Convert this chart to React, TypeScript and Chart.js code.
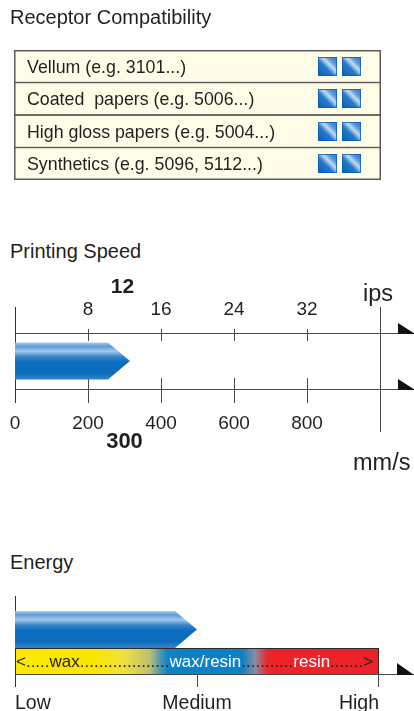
import React, { useEffect, useRef } from 'react';
import { Chart, registerables } from 'chart.js';

Chart.register(...registerables);

const FONT = '"Liberation Sans", Arial, Helvetica, sans-serif';
const INK = '#231f20';
const LINE = '#4a4a4a';

// ---------- Receptor compatibility ----------
const receptorLabels = [
  'Vellum (e.g. 3101...)',
  'Coated  papers (e.g. 5006...)',
  'High gloss papers (e.g. 5004...)',
  'Synthetics (e.g. 5096, 5112...)',
];
const receptorRowSpan = [1, 1, 1, 1];
const receptorScore = [2, 2, 2, 2];

// ---------- Printing speed ----------
const speedMmTicks = [0, 200, 400, 600, 800];
const speedIpsTicks = [8, 16, 24, 32];
const speedMmMax = 1000;
const speedIpsMax = 40;
const speedBar = [315];
const speedMarkMm = 300;
const speedMarkIps = 12;

// ---------- Energy ----------
const energyLevels = ['Low', 'Medium', 'High'];
const energyBar = [1];
const ribbonParts = ['<.....', 'wax', '...................', 'wax/resin', '...........', 'resin', '.......>'];
const ribbonInk = [INK, INK, INK, '#ffffff', INK, '#ffffff', INK];

// ---------- styles ----------
const BAR_STOPS: [number, string][] = [
  [0, '#b0cfec'],
  [0.1, '#5f9bd7'],
  [0.24, '#a2c7ea'],
  [0.38, '#3a85cb'],
  [0.52, '#0e6ebe'],
  [0.82, '#0c6bbc'],
  [1, '#3585ca'],
];
const BAND_STOPS: [number, string][] = [
  [0, '#fde800'],
  [0.44, '#fbe500'],
  [0.6, '#f0e040'],
  [0.74, '#bcc070'],
  [0.8, '#4a96b4'],
  [0.84, '#0d82c8'],
  [1.25, '#0f80c4'],
  [1.32, '#8a8ca2'],
  [1.38, '#e2302f'],
  [1.42, '#ee2229'],
  [2, '#ee2229'],
];

function noPad(s: any) {
  s.paddingLeft = 0;
  s.paddingRight = 0;
  s.paddingTop = 0;
  s.paddingBottom = 0;
}

function drawArrowBar(ctx: CanvasRenderingContext2D, start: number, end: number, cy: number, h: number, tip: number) {
  const top = cy - h / 2;
  const bot = cy + h / 2;
  const g = ctx.createLinearGradient(0, top, 0, bot);
  BAR_STOPS.forEach(([o, c]) => g.addColorStop(o, c));
  ctx.beginPath();
  ctx.moveTo(start, top);
  ctx.lineTo(end - tip, top);
  ctx.lineTo(end, cy);
  ctx.lineTo(end - tip, bot);
  ctx.lineTo(start, bot);
  ctx.closePath();
  ctx.fillStyle = g;
  ctx.fill();
}

function drawChip(ctx: CanvasRenderingContext2D, x: number, y: number, s: number) {
  const g = ctx.createLinearGradient(x, y + s, x + s, y);
  g.addColorStop(0, '#0a5eb0');
  g.addColorStop(0.42, '#267bcb');
  g.addColorStop(0.6, '#c2dbf2');
  g.addColorStop(0.75, '#5c9ad8');
  g.addColorStop(1, '#1f75c5');
  ctx.fillStyle = g;
  ctx.fillRect(x, y, s, s);
  ctx.strokeStyle = 'rgba(10,95,175,0.8)';
  ctx.lineWidth = 1;
  ctx.strokeRect(x + 0.5, y + 0.5, s - 1, s - 1);
}

function vline(ctx: CanvasRenderingContext2D, x: number, y0: number, y1: number) {
  const px = Math.round(x) + 0.5;
  ctx.beginPath();
  ctx.moveTo(px, y0);
  ctx.lineTo(px, y1);
  ctx.stroke();
}
function hline(ctx: CanvasRenderingContext2D, y: number, x0: number, x1: number) {
  const py = Math.round(y) + 0.5;
  ctx.beginPath();
  ctx.moveTo(x0, py);
  ctx.lineTo(x1, py);
  ctx.stroke();
}
function arrowHead(ctx: CanvasRenderingContext2D, x: number, y: number, w: number, h: number) {
  ctx.beginPath();
  ctx.moveTo(x, y - h);
  ctx.lineTo(x, y + 1);
  ctx.lineTo(x + w, y + 1);
  ctx.closePath();
  ctx.fillStyle = '#111';
  ctx.fill();
}

const tableDecor = {
  id: 'tableDecor',
  afterDatasetsDraw(chart: any) {
    const { ctx, chartArea: ca, scales } = chart;
    ctx.save();
    ctx.strokeStyle = '#5a5a5a';
    ctx.lineWidth = 1.5;
    ctx.strokeRect(ca.left + 0.75, ca.top + 0.75, ca.right - ca.left - 1.5, ca.bottom - ca.top - 1.5);
    const s = 19;
    receptorScore.forEach((n, i) => {
      const cy = scales.y.getPixelForValue(i);
      for (let k = 0; k < n; k++) {
        const x = ca.right - 20 - s - (n - 1 - k) * 24;
        drawChip(ctx, x, Math.round(cy - s / 2), s);
      }
    });
    ctx.restore();
  },
};

const speedDecor = {
  id: 'speedDecor',
  beforeDatasetsDraw(chart: any) {
    const { ctx, chartArea: ca, scales, width } = chart;
    const xm = scales.x;
    const xi = scales.x2;
    ctx.save();
    ctx.strokeStyle = LINE;
    ctx.lineWidth = 1;
    hline(ctx, ca.top, ca.left, width);
    hline(ctx, ca.bottom, ca.left, width);
    ctx.strokeStyle = '#333';
    vline(ctx, ca.left, ca.top - 26, ca.bottom + 14);
    ctx.strokeStyle = LINE;
    vline(ctx, xm.getPixelForValue(speedMmMax), ca.top - 26, ca.bottom + 43);
    speedIpsTicks.forEach((v) => vline(ctx, xi.getPixelForValue(v), ca.top - 4, ca.top + 8));
    speedMmTicks.filter((v) => v > 0).forEach((v) => vline(ctx, xm.getPixelForValue(v), ca.bottom - 11, ca.bottom + 14));
    const ax = xm.getPixelForValue(speedMmMax) + 18;
    arrowHead(ctx, ax, Math.round(ca.top), 17, 10);
    arrowHead(ctx, ax, Math.round(ca.bottom), 17, 10);

    ctx.fillStyle = INK;
    ctx.textBaseline = 'alphabetic';
    ctx.textAlign = 'center';
    ctx.font = `bold 21px ${FONT}`;
    ctx.fillText(String(speedMarkIps), xi.getPixelForValue(speedMarkIps) - 2, ca.top - 40);
    ctx.font = `bold 22px ${FONT}`;
    ctx.fillText(String(speedMarkMm), xm.getPixelForValue(speedMarkMm), ca.bottom + 59);
    ctx.textAlign = 'left';
    ctx.font = `23.5px ${FONT}`;
    ctx.fillText('ips', ca.right - 17, ca.top - 32);
    ctx.fillText('mm/s', ca.right - 27, ca.bottom + 81);
    ctx.restore();
  },
  afterDatasetsDraw(chart: any) {
    const { ctx } = chart;
    const el = chart.getDatasetMeta(0).data[0];
    const p = el.getProps(['x', 'y', 'base', 'height'], true);
    ctx.save();
    drawArrowBar(ctx, p.base, p.x, p.y, p.height, 22);
    ctx.restore();
  },
};

const energyDecor = {
  id: 'energyDecor',
  beforeDatasetsDraw(chart: any) {
    const { ctx, chartArea: ca, scales, width } = chart;
    const x = scales.x;
    const bl = x.getPixelForValue(0);
    const br = x.getPixelForValue(2);
    const bt = ca.bottom;
    const bb = ca.bottom + 26;
    ctx.save();
    const g = ctx.createLinearGradient(bl, 0, br, 0);
    BAND_STOPS.forEach(([v, c]) => g.addColorStop(v / 2, c));
    ctx.fillStyle = g;
    ctx.fillRect(bl, bt, br - bl, bb - bt);
    ctx.strokeStyle = '#2a2a2a';
    ctx.lineWidth = 1;
    ctx.strokeRect(bl + 0.5, bt + 0.5, br - bl - 1, bb - bt);

    ctx.strokeStyle = LINE;
    hline(ctx, bb, bl, width);
    ctx.strokeStyle = '#333';
    vline(ctx, bl, ca.top - 15, bb + 13);
    ctx.strokeStyle = LINE;
    [1, 2].forEach((v) => vline(ctx, x.getPixelForValue(v) - (v === 2 ? 1 : 0), bb, bb + 13));
    arrowHead(ctx, br + 18, Math.round(bb), 17, 11);

    ctx.font = `17px ${FONT}`;
    ctx.textBaseline = 'alphabetic';
    ctx.textAlign = 'left';
    let tx = bl + 1;
    ribbonParts.forEach((t, i) => {
      ctx.fillStyle = ribbonInk[i];
      ctx.fillText(t, tx, bb - 7);
      tx += ctx.measureText(t).width;
    });
    ctx.restore();
  },
  afterDatasetsDraw(chart: any) {
    const { ctx } = chart;
    const el = chart.getDatasetMeta(0).data[0];
    const p = el.getProps(['x', 'y', 'base', 'height'], true);
    ctx.save();
    drawArrowBar(ctx, p.base, p.x, p.y, p.height, 22);
    ctx.restore();
  },
};

const noPlugins = { legend: { display: false }, tooltip: { enabled: false }, title: { display: false } };

function tableConfig(): any {
  return {
    type: 'bar',
    data: {
      labels: receptorLabels,
      datasets: [
        {
          data: receptorRowSpan,
          backgroundColor: '#fffde8',
          borderColor: '#3c3c3c',
          borderWidth: 1,
          borderSkipped: false,
          categoryPercentage: 1,
          barPercentage: 1,
        },
      ],
    },
    options: {
      indexAxis: 'y',
      responsive: false,
      animation: false,
      events: [],
      layout: { padding: { left: 1, right: 33, top: 50, bottom: 10 } },
      plugins: noPlugins,
      scales: {
        x: { type: 'linear', min: 0, max: 1, display: false },
        y: {
          type: 'category',
          position: 'left',
          grid: { display: false, drawTicks: false },
          border: { display: false },
          ticks: {
            z: 1,
            mirror: true,
            padding: 13,
            labelOffset: 1.5,
            autoSkip: false,
            color: INK,
            font: { family: FONT, size: 17.8 },
          },
          afterFit: (s: any) => {
            s.width = 13;
            noPad(s);
          },
        },
      },
    },
    plugins: [tableDecor],
  };
}

function speedConfig(): any {
  return {
    type: 'bar',
    data: {
      labels: ['speed'],
      datasets: [{ data: speedBar, xAxisID: 'x', backgroundColor: 'rgba(0,0,0,0)', borderWidth: 0, barThickness: 37 }],
    },
    options: {
      indexAxis: 'y',
      responsive: false,
      animation: false,
      events: [],
      layout: { padding: { left: 15, right: 34, top: 0, bottom: 0 } },
      plugins: noPlugins,
      scales: {
        x: {
          type: 'linear',
          position: 'bottom',
          min: 0,
          max: speedMmMax,
          grid: { display: false, drawTicks: false },
          border: { display: false },
          ticks: {
            stepSize: 200,
            padding: 22.9,
            maxRotation: 0,
            autoSkip: false,
            color: INK,
            font: { family: FONT, size: 19 },
            callback: (v: number) => (speedMmTicks.includes(v) ? String(v) : ''),
          },
          afterFit: (s: any) => {
            s.height = 91;
            noPad(s);
          },
        },
        x2: {
          type: 'linear',
          position: 'top',
          min: 0,
          max: speedIpsMax,
          grid: { display: false, drawTicks: false },
          border: { display: false },
          ticks: {
            stepSize: 8,
            padding: 11.8,
            maxRotation: 0,
            autoSkip: false,
            color: INK,
            font: { family: FONT, size: 19 },
            callback: (v: number) => (speedIpsTicks.includes(v) ? String(v) : ''),
          },
          afterFit: (s: any) => {
            s.height = 63;
            noPad(s);
          },
        },
        y: { display: false },
      },
    },
    plugins: [speedDecor],
  };
}

function energyConfig(): any {
  return {
    type: 'bar',
    data: {
      labels: ['energy'],
      datasets: [{ data: energyBar, backgroundColor: 'rgba(0,0,0,0)', borderWidth: 0, barThickness: 37 }],
    },
    options: {
      indexAxis: 'y',
      responsive: false,
      animation: false,
      events: [],
      layout: { padding: { left: 15, right: 35, top: 31, bottom: 0 } },
      plugins: noPlugins,
      scales: {
        x: {
          type: 'linear',
          position: 'bottom',
          min: 0,
          max: energyLevels.length - 1,
          grid: { display: false, drawTicks: false },
          border: { display: false },
          ticks: {
            stepSize: 1,
            padding: 44,
            align: 'inner',
            maxRotation: 0,
            autoSkip: false,
            color: INK,
            font: { family: FONT, size: 19.5 },
            callback: (v: number) => energyLevels[v] ?? '',
          },
          afterFit: (s: any) => {
            s.height = 63;
            noPad(s);
          },
        },
        y: { display: false },
      },
    },
    plugins: [energyDecor],
  };
}

const titleStyle = (top: number): React.CSSProperties => ({
  position: 'absolute',
  left: 10,
  top,
  fontSize: 20,
  lineHeight: '20px',
  whiteSpace: 'nowrap',
  color: INK,
  fontFamily: FONT,
});

export default function App() {
  const tableRef = useRef<HTMLCanvasElement>(null);
  const speedRef = useRef<HTMLCanvasElement>(null);
  const energyRef = useRef<HTMLCanvasElement>(null);

  useEffect(() => {
    document.body.style.margin = '0';
    const charts = [
      new Chart(tableRef.current as HTMLCanvasElement, tableConfig()),
      new Chart(speedRef.current as HTMLCanvasElement, speedConfig()),
      new Chart(energyRef.current as HTMLCanvasElement, energyConfig()),
    ];
    return () => charts.forEach((c) => c.destroy());
  }, []);

  const cv = (top: number, height: number): React.CSSProperties => ({
    position: 'absolute',
    left: 0,
    top,
    width: 414,
    height,
  });

  return (
    <div style={{ position: 'relative', width: 414, height: 711, overflow: 'hidden', background: '#fff' }}>
      <canvas ref={tableRef} width={414} height={190} style={cv(0, 190)} />
      <canvas ref={speedRef} width={414} height={210} style={cv(270, 210)} />
      <canvas ref={energyRef} width={414} height={131} style={cv(580, 131)} />
      <div style={titleStyle(7)}>Receptor Compatibility</div>
      <div style={titleStyle(241)}>Printing Speed</div>
      <div style={titleStyle(552)}>Energy</div>
    </div>
  );
}
